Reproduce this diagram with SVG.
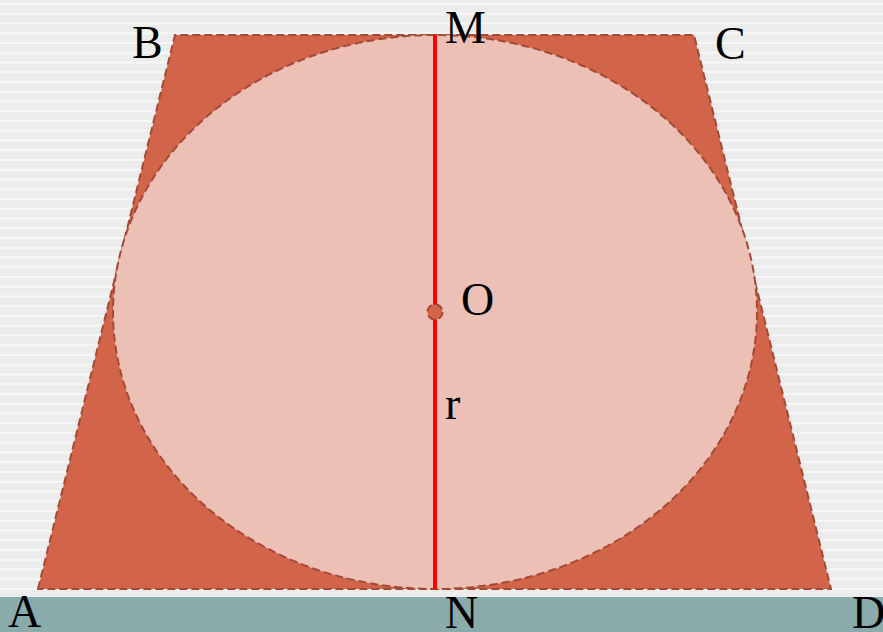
<svg xmlns="http://www.w3.org/2000/svg" width="883" height="632" viewBox="0 0 883 632">
<defs>
<pattern id="stripes" x="0" y="3" width="20" height="9.75" patternUnits="userSpaceOnUse">
<rect width="20" height="9.75" fill="#ececec"/>
<rect y="0" width="20" height="2" fill="#f7f7f7"/>
</pattern>
</defs>
<style>
.lbl{font-family:"Liberation Serif","Times New Roman",serif;font-size:46px;fill:#000;}
.dash{stroke:#a34a37;stroke-width:2;stroke-dasharray:8 4;}
</style>
<rect width="883" height="632" fill="url(#stripes)"/>
<rect x="0" y="597" width="883" height="35" fill="#8aabab"/>
<g id="trapezoid">
<polygon points="38,589 175,35 694,35 831,589" fill="#d2644a" class="dash"/>
</g>
<g id="circle">
<ellipse cx="435" cy="312" rx="322" ry="277" fill="#ecc0b5" class="dash"/>
</g>
<g id="connectors">
<line x1="435" y1="35" x2="435" y2="589" stroke="#ff0000" stroke-width="4"/>
</g>
<g id="center">
<circle cx="435" cy="312" r="7.5" fill="#d2644a" class="dash" stroke-dasharray="4 2"/>
</g>
<g id="labels">
<text class="lbl" x="132" y="58">B</text>
<text class="lbl" x="715" y="59">C</text>
<text class="lbl" x="445" y="43">M</text>
<text class="lbl" x="461" y="315">O</text>
<text class="lbl" x="445" y="419">r</text>
<text class="lbl" x="8" y="627">A</text>
<text class="lbl" x="445" y="628">N</text>
<text class="lbl" x="852" y="628">D</text>
</g>
</svg>
